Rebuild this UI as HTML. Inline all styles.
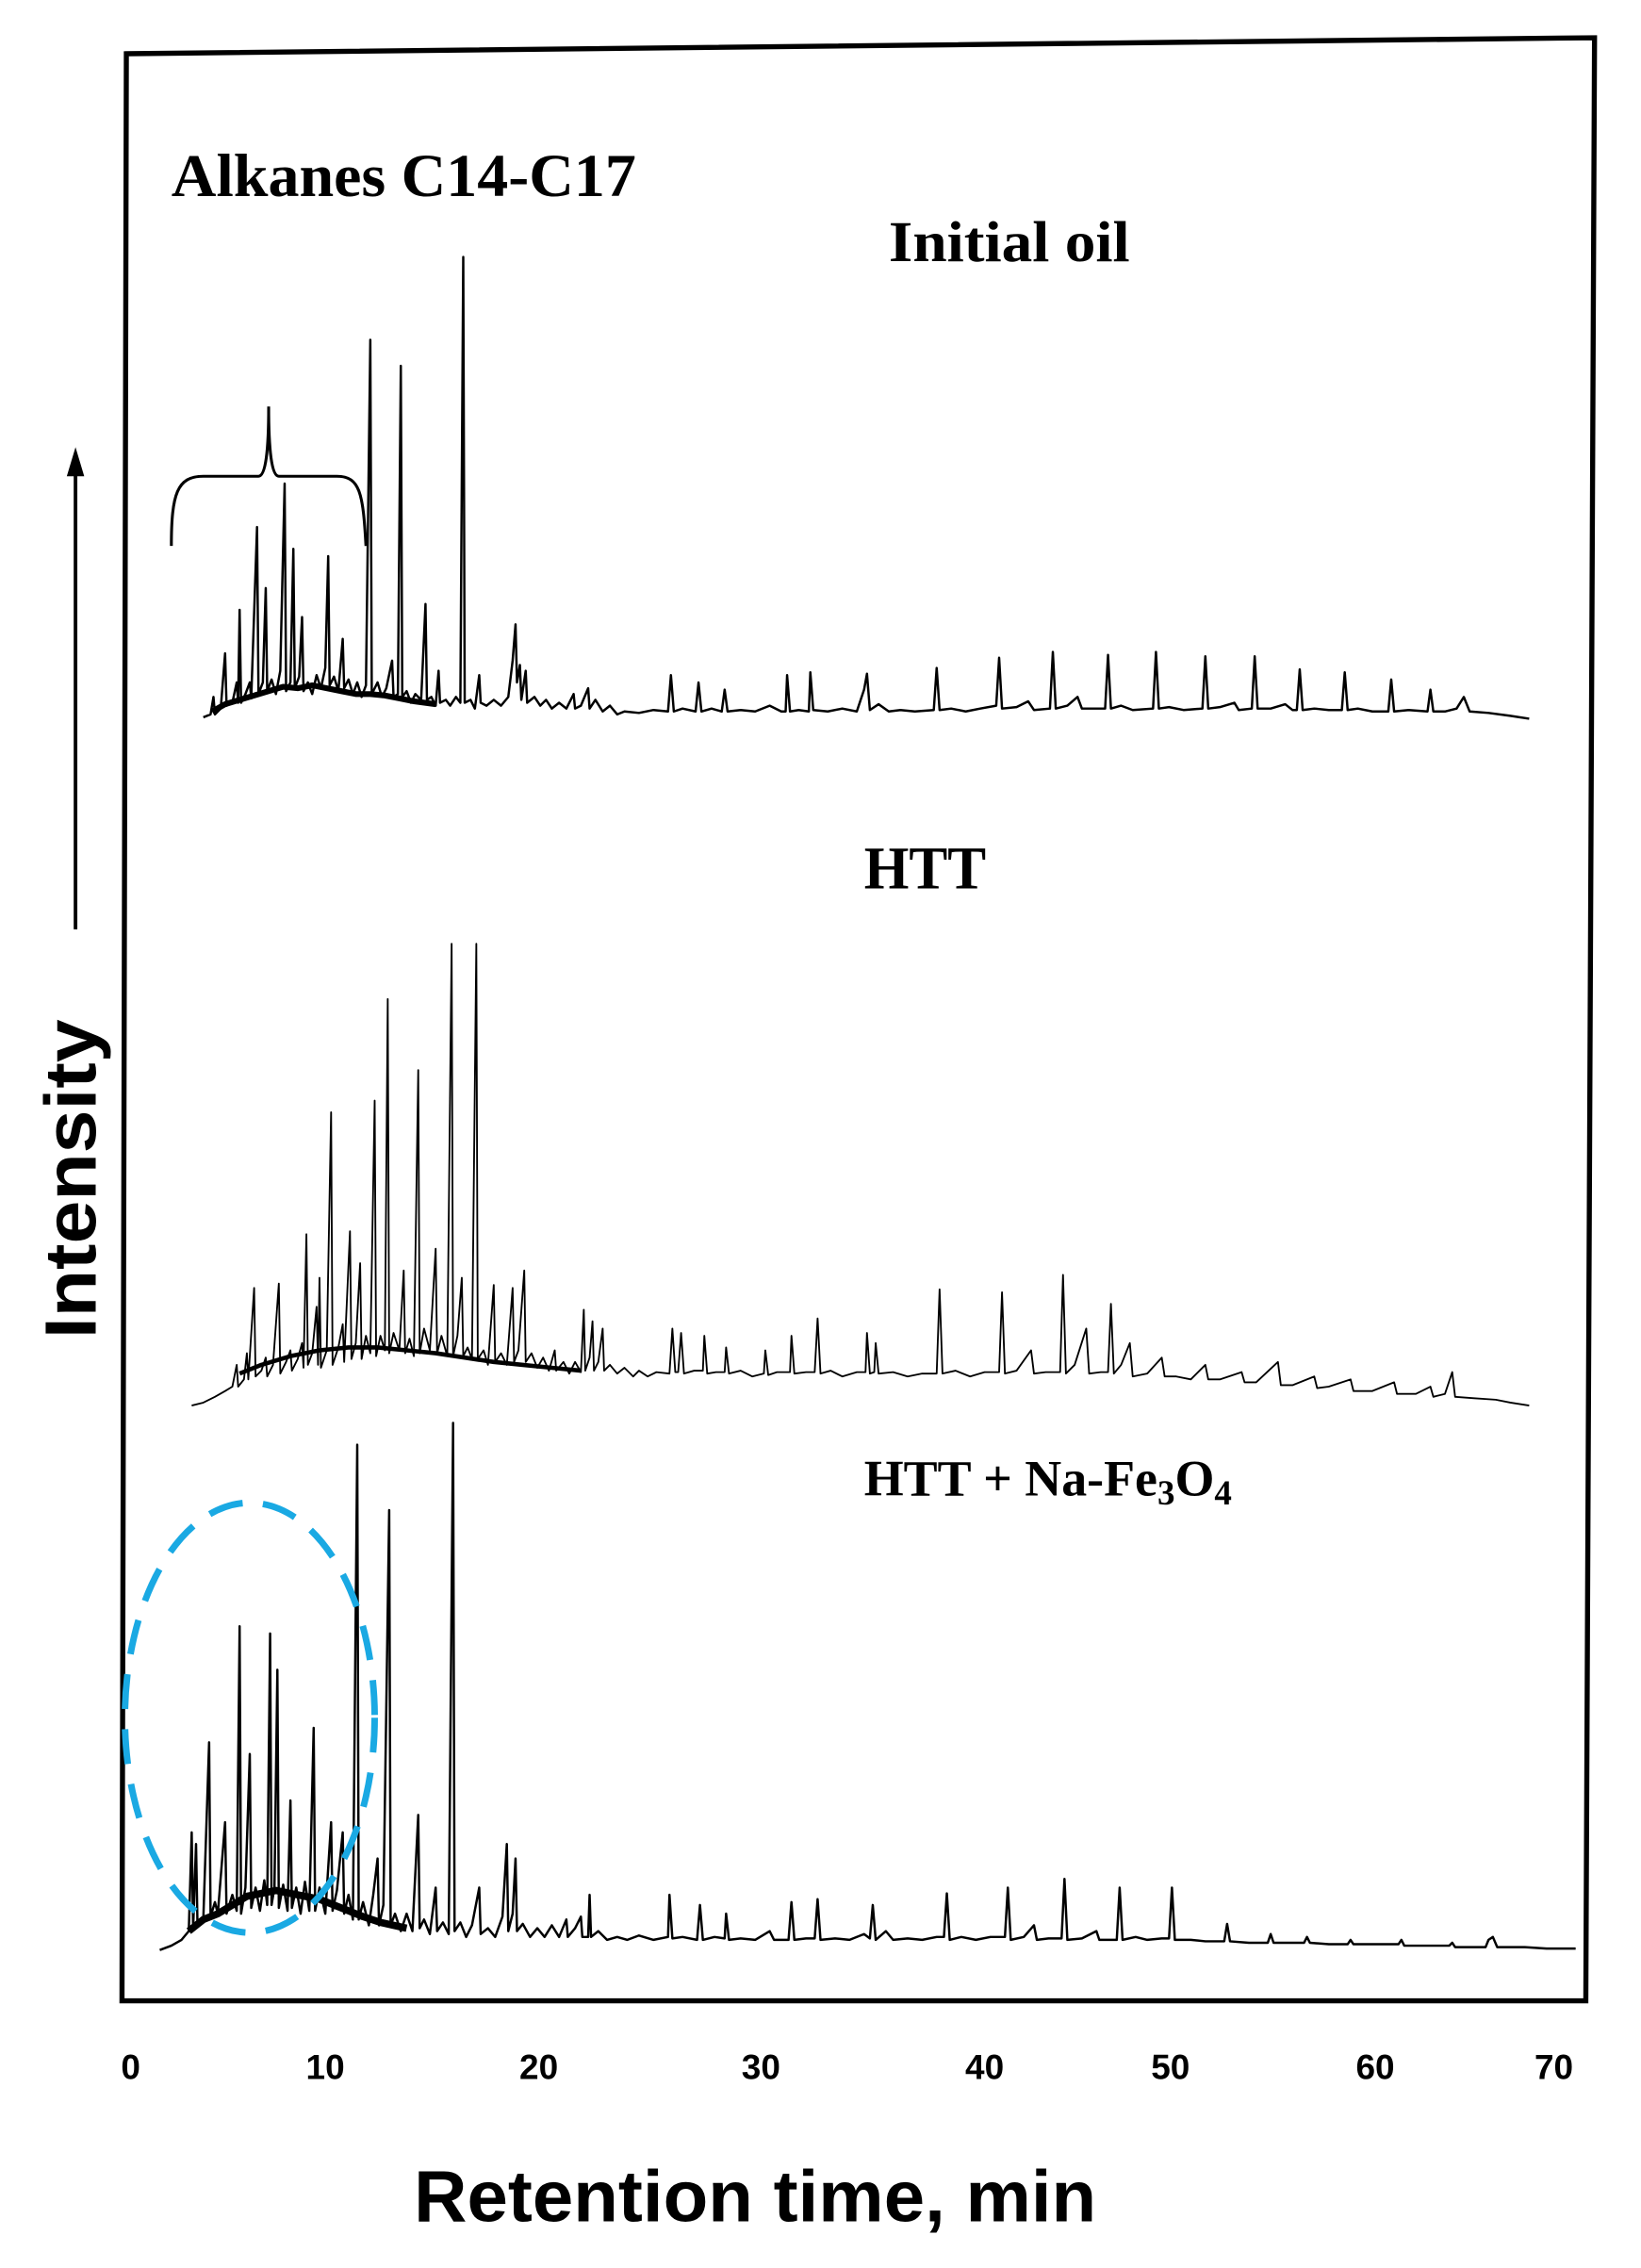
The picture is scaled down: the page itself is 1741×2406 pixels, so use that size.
<!DOCTYPE html>
<html><head><meta charset="utf-8"><style>
html,body{margin:0;padding:0;background:#fff}
svg{display:block}
</style></head><body>
<svg width="1741" height="2406" viewBox="0 0 1130 1562" preserveAspectRatio="none" xmlns="http://www.w3.org/2000/svg">
<rect width="1130" height="1562" fill="#fff"/>
<path d="M87,37 L1098,26 L1092,1378 L84,1378 Z" fill="none" stroke="#000" stroke-width="3.5"/>
<g fill="none" stroke="#000" stroke-width="1.6" stroke-linejoin="round">
<path stroke-width="4" d="M146,490 L155,485 L165,482 L175,479 L185,476 L195,473 L205,474 L215,472 L225,474 L235,476 L245,478 L255,478 L265,479 L275,481 L285,483 L300,485"/>
<path stroke-width="5" d="M130,1330 L140,1322 L150,1318 L160,1312 L170,1306 L180,1304 L190,1302 L200,1304 L210,1306 L220,1308 L230,1312 L240,1316 L250,1320 L262,1324 L280,1328"/>
<path stroke-width="3" d="M165,946 L180,940 L200,934 L220,930 L240,928 L260,928 L280,930 L300,932 L320,935 L340,938 L360,940 L380,942 L400,944"/>
<path d="M140,494 L145,492 L147,480 L148,492 L152,488 L155,450 L156,486 L160,484 L163,470 L164,484 L165,420 L166,484 L169,478 L172,470 L173,481 L177,363 L178,478 L181,470 L183,405 L184,476 L187,468 L190,478 L193,462 L196,333 L197,476 L200,470 L202,378 L203,474 L206,466 L208,425 L209,476 L212,470 L215,478 L218,465 L221,474 L224,460 L226,383 L227,472 L230,466 L233,476 L236,440 L237,474 L240,468 L243,478 L246,470 L249,480 L252,472 L255,234 L256,478 L260,470 L263,480 L266,474 L270,455 L271,480 L274,478 L276,252 L277,480 L280,476 L283,484 L286,478 L290,482 L293,416 L294,482 L297,480 L300,486 L302,462 L303,484 L307,482 L310,486 L314,480 L317,484 L319,177 L320,484 L324,482 L327,488 L330,465 L331,484 L335,486 L340,482 L345,486 L350,480 L353,455 L355,430 L356,470 L358,458 L359,482 L362,462 L363,484 L368,480 L372,486 L376,482 L380,488 L385,484 L390,488 L395,478 L396,488 L400,486 L405,474 L406,488 L410,482 L415,490 L420,486 L425,492 L430,490 L440,491 L450,489 L460,490 L462,465 L464,490 L470,488 L479,490 L481,470 L483,490 L490,488 L497,490 L499,475 L501,490 L510,489 L520,490 L530,486 L538,490 L541,490 L542,465 L544,490 L550,489 L557,490 L558,463 L560,489 L570,490 L580,488 L590,490 L595,475 L597,464 L599,489 L605,485 L612,490 L620,489 L630,490 L643,489 L645,460 L647,489 L655,488 L665,490 L675,488 L686,486 L688,453 L690,488 L700,487 L708,483 L712,489 L723,488 L725,449 L727,488 L735,486 L742,480 L745,488 L761,488 L763,451 L765,488 L772,486 L780,489 L794,488 L796,449 L798,488 L805,487 L815,489 L828,488 L830,452 L832,488 L840,487 L850,484 L853,489 L862,488 L864,452 L866,488 L875,488 L885,485 L890,489 L893,489 L895,461 L897,489 L905,488 L915,489 L924,489 L926,463 L928,489 L935,488 L945,490 L956,490 L958,468 L960,490 L970,489 L983,490 L985,475 L987,490 L995,490 L1003,488 L1008,480 L1012,490 L1025,491 L1040,493 L1053,495"/>
<path stroke-width="1.2" d="M132,968 L140,966 L148,962 L155,958 L160,955 L163,940 L164,955 L168,950 L170,932 L171,950 L175,887 L176,948 L180,944 L183,935 L184,948 L188,940 L192,884 L193,946 L197,938 L200,930 L201,944 L205,936 L208,925 L209,942 L211,850 L212,940 L215,932 L218,900 L219,940 L220,880 L221,942 L225,930 L228,766 L229,940 L233,928 L236,912 L237,938 L241,848 L242,936 L245,925 L248,870 L249,936 L252,920 L255,932 L258,758 L259,934 L262,920 L265,930 L267,688 L268,932 L271,918 L275,930 L278,875 L279,932 L282,922 L285,934 L288,737 L289,932 L292,915 L296,930 L300,860 L301,932 L304,920 L308,934 L311,650 L312,934 L315,920 L318,880 L319,934 L322,928 L325,936 L328,650 L329,936 L333,930 L336,940 L340,885 L341,938 L345,932 L349,940 L353,887 L354,938 L357,930 L361,875 L362,938 L366,932 L370,942 L374,935 L378,944 L382,930 L383,944 L388,938 L392,946 L396,938 L400,945 L402,902 L403,944 L406,935 L408,910 L409,944 L412,938 L415,915 L416,944 L420,940 L425,946 L430,942 L436,948 L440,944 L446,948 L452,945 L461,946 L463,915 L465,945 L467,945 L469,918 L471,946 L478,944 L484,944 L485,920 L487,946 L493,945 L499,945 L500,928 L502,946 L510,944 L518,948 L526,946 L527,930 L529,947 L535,945 L544,945 L545,920 L547,946 L555,945 L561,945 L563,908 L565,946 L572,944 L580,948 L590,945 L596,945 L597,918 L599,946 L602,945 L603,925 L605,946 L615,945 L625,948 L635,946 L645,946 L647,888 L649,946 L658,944 L668,948 L678,945 L688,945 L690,890 L692,946 L700,944 L710,930 L712,946 L720,945 L730,945 L732,878 L734,946 L740,940 L748,915 L750,946 L758,945 L763,945 L765,898 L767,946 L772,940 L778,925 L780,948 L790,946 L800,935 L802,948 L810,948 L820,950 L830,940 L832,950 L840,950 L855,945 L857,952 L865,952 L880,938 L882,954 L890,954 L905,948 L907,956 L915,955 L930,950 L932,958 L945,958 L960,952 L962,960 L975,960 L985,955 L987,962 L995,960 L1000,945 L1002,962 L1015,963 L1030,964 L1040,966 L1053,968"/>
<path d="M110,1343 L118,1340 L125,1336 L130,1330 L132,1262 L133,1328 L135,1270 L136,1326 L140,1322 L144,1200 L145,1320 L148,1310 L150,1318 L155,1255 L156,1318 L160,1305 L163,1316 L165,1120 L166,1318 L169,1300 L172,1208 L173,1314 L176,1300 L179,1316 L182,1295 L184,1312 L186,1125 L187,1312 L189,1300 L191,1150 L192,1314 L195,1298 L198,1316 L200,1240 L201,1314 L204,1300 L207,1318 L210,1296 L213,1316 L216,1190 L217,1316 L220,1300 L224,1318 L228,1255 L229,1316 L232,1302 L236,1262 L237,1318 L240,1305 L243,1322 L246,995 L247,1322 L250,1310 L254,1326 L257,1305 L260,1280 L261,1326 L264,1312 L268,1040 L269,1326 L272,1318 L276,1330 L280,1318 L284,1330 L288,1250 L289,1328 L292,1322 L296,1332 L300,1300 L301,1330 L305,1324 L309,1332 L312,980 L313,1330 L317,1324 L321,1334 L325,1326 L330,1300 L331,1332 L336,1328 L341,1334 L346,1320 L349,1270 L350,1330 L353,1318 L355,1280 L356,1330 L360,1325 L365,1334 L370,1328 L375,1334 L380,1326 L385,1334 L390,1322 L391,1334 L396,1328 L400,1320 L401,1334 L405,1334 L406,1305 L407,1334 L412,1330 L418,1336 L425,1334 L432,1336 L440,1333 L450,1336 L460,1334 L461,1305 L463,1335 L470,1334 L480,1336 L482,1312 L484,1336 L492,1334 L499,1335 L500,1318 L502,1336 L510,1335 L520,1336 L530,1330 L533,1336 L543,1336 L545,1310 L547,1336 L555,1335 L561,1335 L563,1308 L565,1336 L575,1335 L585,1336 L595,1332 L599,1335 L601,1312 L603,1336 L610,1330 L615,1336 L625,1335 L635,1336 L645,1334 L650,1334 L652,1304 L654,1336 L662,1334 L672,1336 L682,1334 L692,1334 L694,1300 L696,1336 L705,1334 L712,1326 L714,1336 L722,1335 L731,1335 L733,1294 L735,1336 L745,1335 L755,1330 L757,1336 L769,1336 L771,1300 L773,1336 L782,1334 L790,1336 L800,1335 L805,1335 L807,1300 L809,1336 L820,1336 L830,1337 L843,1337 L845,1325 L847,1337 L860,1338 L873,1338 L875,1332 L877,1338 L890,1338 L898,1338 L900,1334 L902,1338 L915,1339 L928,1339 L930,1336 L932,1339 L950,1339 L963,1339 L965,1336 L967,1340 L985,1340 L998,1340 L1000,1338 L1002,1341 L1023,1341 L1025,1336 L1028,1334 L1031,1341 L1050,1341 L1065,1342 L1085,1342"/>
</g>
<ellipse cx="172" cy="1183" rx="86" ry="148" fill="none" stroke="#1aa9e3" stroke-width="4.5" stroke-dasharray="24,14"/>
<path d="M118,376 C118,340 122,328 140,328 L178,328 C183,328 185,310 185,280 C185,310 187,328 192,328 L232,328 C248,328 250,340 252,376" fill="none" stroke="#000" stroke-width="2"/>
<line x1="52" y1="640" x2="52" y2="318" stroke="#000" stroke-width="2.5"/>
<path d="M46,328 L52,308 L58,328 Z" fill="#000"/>
<g font-family="'Liberation Serif',serif" font-weight="bold" fill="#000">
<text x="118" y="135" font-size="42" textLength="320" lengthAdjust="spacingAndGlyphs">Alkanes C14-C17</text>
<text x="612" y="180" font-size="40" textLength="166" lengthAdjust="spacingAndGlyphs">Initial oil</text>
<text x="595" y="612" font-size="42" textLength="84" lengthAdjust="spacingAndGlyphs">HTT</text>
<text x="595" y="1030" font-size="35">HTT + Na-Fe<tspan font-size="24" dy="6">3</tspan><tspan dy="-6">O</tspan><tspan font-size="24" dy="6">4</tspan></text>
</g>
<g font-family="'Liberation Sans',sans-serif" font-weight="bold" fill="#000">
<text transform="translate(66,812) rotate(-90)" font-size="50" text-anchor="middle" textLength="220" lengthAdjust="spacingAndGlyphs">Intensity</text>
<text x="520" y="1530" font-size="50" text-anchor="middle" textLength="470" lengthAdjust="spacingAndGlyphs">Retention time, min</text>
<g font-size="24" text-anchor="middle">
<text x="90" y="1432">0</text><text x="224" y="1432">10</text><text x="371" y="1432">20</text><text x="524" y="1432">30</text><text x="678" y="1432">40</text><text x="806" y="1432">50</text><text x="947" y="1432">60</text><text x="1070" y="1432">70</text>
</g></g>
</svg>
</body></html>
